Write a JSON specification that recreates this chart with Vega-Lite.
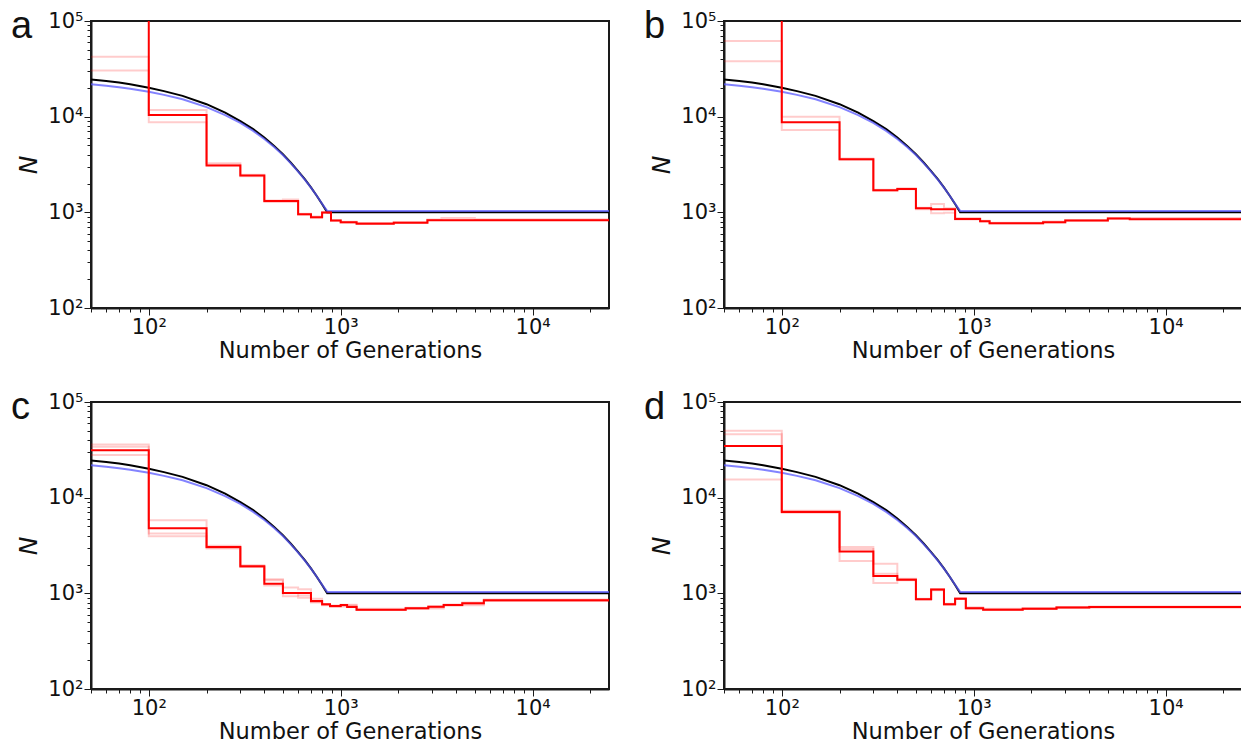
{
  "$schema": "https://vega.github.io/schema/vega-lite/v6.json",
  "padding": {"left": 10, "top": 7, "right": 0, "bottom": 0},
  "background": "white",
  "datasets": {
    "truth": [
      {"s": "black", "x": 50, "y": 24500}, {"s": "black", "x": 60, "y": 23600}, {"s": "black", "x": 70, "y": 22700}, {"s": "black", "x": 80, "y": 21800},
      {"s": "black", "x": 100, "y": 20100}, {"s": "black", "x": 120, "y": 18500}, {"s": "black", "x": 150, "y": 16500}, {"s": "black", "x": 200, "y": 13500},
      {"s": "black", "x": 250, "y": 11000}, {"s": "black", "x": 300, "y": 9000}, {"s": "black", "x": 350, "y": 7400}, {"s": "black", "x": 400, "y": 6050},
      {"s": "black", "x": 450, "y": 4950}, {"s": "black", "x": 500, "y": 4050}, {"s": "black", "x": 550, "y": 3300}, {"s": "black", "x": 600, "y": 2700},
      {"s": "black", "x": 650, "y": 2220}, {"s": "black", "x": 700, "y": 1820}, {"s": "black", "x": 750, "y": 1490}, {"s": "black", "x": 800, "y": 1220},
      {"s": "black", "x": 850, "y": 1000}, {"s": "black", "x": 25000, "y": 1000},
      {"s": "blue", "x": 50, "y": 21800}, {"s": "blue", "x": 60, "y": 21000}, {"s": "blue", "x": 70, "y": 20300}, {"s": "blue", "x": 80, "y": 19600},
      {"s": "blue", "x": 100, "y": 18200}, {"s": "blue", "x": 120, "y": 16900}, {"s": "blue", "x": 150, "y": 15200}, {"s": "blue", "x": 200, "y": 12600},
      {"s": "blue", "x": 250, "y": 10400}, {"s": "blue", "x": 300, "y": 8600}, {"s": "blue", "x": 350, "y": 7100}, {"s": "blue", "x": 400, "y": 5850},
      {"s": "blue", "x": 450, "y": 4830}, {"s": "blue", "x": 500, "y": 3970}, {"s": "blue", "x": 550, "y": 3250}, {"s": "blue", "x": 600, "y": 2670},
      {"s": "blue", "x": 650, "y": 2200}, {"s": "blue", "x": 700, "y": 1810}, {"s": "blue", "x": 750, "y": 1490}, {"s": "blue", "x": 800, "y": 1230},
      {"s": "blue", "x": 850, "y": 1035}, {"s": "blue", "x": 25000, "y": 1035}
    ],
    "est": [
      {"p": "a", "id": "est", "x": 50, "y": 150000}, {"p": "a", "id": "est", "x": 100, "y": 10400}, {"p": "a", "id": "est", "x": 200, "y": 3080},
      {"p": "a", "id": "est", "x": 300, "y": 2420}, {"p": "a", "id": "est", "x": 400, "y": 1310}, {"p": "a", "id": "est", "x": 600, "y": 955},
      {"p": "a", "id": "est", "x": 700, "y": 890}, {"p": "a", "id": "est", "x": 800, "y": 995}, {"p": "a", "id": "est", "x": 890, "y": 820},
      {"p": "a", "id": "est", "x": 1000, "y": 787}, {"p": "a", "id": "est", "x": 1210, "y": 762}, {"p": "a", "id": "est", "x": 1890, "y": 780},
      {"p": "a", "id": "est", "x": 2830, "y": 825}, {"p": "a", "id": "est", "x": 25000, "y": 825},
      {"p": "a", "id": "r1", "x": 50, "y": 42300}, {"p": "a", "id": "r1", "x": 100, "y": 11750}, {"p": "a", "id": "r1", "x": 200, "y": 3250},
      {"p": "a", "id": "r1", "x": 300, "y": 2470}, {"p": "a", "id": "r1", "x": 400, "y": 1330}, {"p": "a", "id": "r1", "x": 500, "y": 1360},
      {"p": "a", "id": "r1", "x": 600, "y": 965}, {"p": "a", "id": "r1", "x": 700, "y": 905}, {"p": "a", "id": "r1", "x": 800, "y": 1000},
      {"p": "a", "id": "r1", "x": 890, "y": 830}, {"p": "a", "id": "r1", "x": 1000, "y": 795}, {"p": "a", "id": "r1", "x": 1210, "y": 772},
      {"p": "a", "id": "r1", "x": 1890, "y": 790}, {"p": "a", "id": "r1", "x": 2830, "y": 840}, {"p": "a", "id": "r1", "x": 3350, "y": 870},
      {"p": "a", "id": "r1", "x": 5000, "y": 845}, {"p": "a", "id": "r1", "x": 25000, "y": 840},
      {"p": "a", "id": "r2", "x": 50, "y": 30300}, {"p": "a", "id": "r2", "x": 100, "y": 8740}, {"p": "a", "id": "r2", "x": 200, "y": 3150},
      {"p": "a", "id": "r2", "x": 300, "y": 2380}, {"p": "a", "id": "r2", "x": 400, "y": 1280}, {"p": "a", "id": "r2", "x": 600, "y": 945},
      {"p": "a", "id": "r2", "x": 700, "y": 880}, {"p": "a", "id": "r2", "x": 800, "y": 985}, {"p": "a", "id": "r2", "x": 890, "y": 810},
      {"p": "a", "id": "r2", "x": 1000, "y": 780}, {"p": "a", "id": "r2", "x": 1210, "y": 770}, {"p": "a", "id": "r2", "x": 1890, "y": 785},
      {"p": "a", "id": "r2", "x": 2830, "y": 830}, {"p": "a", "id": "r2", "x": 25000, "y": 830},

      {"p": "b", "id": "est", "x": 50, "y": 150000}, {"p": "b", "id": "est", "x": 100, "y": 8730}, {"p": "b", "id": "est", "x": 200, "y": 3590},
      {"p": "b", "id": "est", "x": 300, "y": 1700}, {"p": "b", "id": "est", "x": 400, "y": 1750}, {"p": "b", "id": "est", "x": 500, "y": 1100},
      {"p": "b", "id": "est", "x": 600, "y": 1080}, {"p": "b", "id": "est", "x": 800, "y": 850}, {"p": "b", "id": "est", "x": 1080, "y": 805},
      {"p": "b", "id": "est", "x": 1210, "y": 770}, {"p": "b", "id": "est", "x": 2300, "y": 790}, {"p": "b", "id": "est", "x": 3000, "y": 820},
      {"p": "b", "id": "est", "x": 5000, "y": 860}, {"p": "b", "id": "est", "x": 6500, "y": 845}, {"p": "b", "id": "est", "x": 25000, "y": 845},
      {"p": "b", "id": "r1", "x": 50, "y": 61800}, {"p": "b", "id": "r1", "x": 100, "y": 10000}, {"p": "b", "id": "r1", "x": 200, "y": 3650},
      {"p": "b", "id": "r1", "x": 300, "y": 1720}, {"p": "b", "id": "r1", "x": 400, "y": 1790}, {"p": "b", "id": "r1", "x": 500, "y": 1120},
      {"p": "b", "id": "r1", "x": 600, "y": 1220}, {"p": "b", "id": "r1", "x": 700, "y": 1100}, {"p": "b", "id": "r1", "x": 800, "y": 870},
      {"p": "b", "id": "r1", "x": 1080, "y": 815}, {"p": "b", "id": "r1", "x": 1210, "y": 780}, {"p": "b", "id": "r1", "x": 2300, "y": 800},
      {"p": "b", "id": "r1", "x": 3000, "y": 830}, {"p": "b", "id": "r1", "x": 5000, "y": 870}, {"p": "b", "id": "r1", "x": 25000, "y": 850},
      {"p": "b", "id": "r2", "x": 50, "y": 37900}, {"p": "b", "id": "r2", "x": 100, "y": 7260}, {"p": "b", "id": "r2", "x": 200, "y": 3550},
      {"p": "b", "id": "r2", "x": 300, "y": 1680}, {"p": "b", "id": "r2", "x": 400, "y": 1740}, {"p": "b", "id": "r2", "x": 500, "y": 1080},
      {"p": "b", "id": "r2", "x": 600, "y": 980}, {"p": "b", "id": "r2", "x": 700, "y": 990}, {"p": "b", "id": "r2", "x": 800, "y": 840},
      {"p": "b", "id": "r2", "x": 1080, "y": 800}, {"p": "b", "id": "r2", "x": 1210, "y": 765}, {"p": "b", "id": "r2", "x": 2300, "y": 785},
      {"p": "b", "id": "r2", "x": 3000, "y": 815}, {"p": "b", "id": "r2", "x": 5000, "y": 855}, {"p": "b", "id": "r2", "x": 25000, "y": 840},

      {"p": "c", "id": "est", "x": 50, "y": 31400}, {"p": "c", "id": "est", "x": 100, "y": 4800}, {"p": "c", "id": "est", "x": 200, "y": 3050},
      {"p": "c", "id": "est", "x": 300, "y": 1920}, {"p": "c", "id": "est", "x": 400, "y": 1262}, {"p": "c", "id": "est", "x": 500, "y": 1007},
      {"p": "c", "id": "est", "x": 700, "y": 830}, {"p": "c", "id": "est", "x": 800, "y": 767}, {"p": "c", "id": "est", "x": 880, "y": 736},
      {"p": "c", "id": "est", "x": 1000, "y": 754}, {"p": "c", "id": "est", "x": 1080, "y": 718}, {"p": "c", "id": "est", "x": 1210, "y": 674},
      {"p": "c", "id": "est", "x": 2180, "y": 697}, {"p": "c", "id": "est", "x": 2860, "y": 724}, {"p": "c", "id": "est", "x": 3440, "y": 754},
      {"p": "c", "id": "est", "x": 4300, "y": 790}, {"p": "c", "id": "est", "x": 5570, "y": 845}, {"p": "c", "id": "est", "x": 25000, "y": 845},
      {"p": "c", "id": "r1", "x": 50, "y": 36000}, {"p": "c", "id": "r1", "x": 100, "y": 5810}, {"p": "c", "id": "r1", "x": 200, "y": 3150},
      {"p": "c", "id": "r1", "x": 300, "y": 1960}, {"p": "c", "id": "r1", "x": 400, "y": 1370}, {"p": "c", "id": "r1", "x": 500, "y": 1150},
      {"p": "c", "id": "r1", "x": 600, "y": 1100}, {"p": "c", "id": "r1", "x": 700, "y": 880}, {"p": "c", "id": "r1", "x": 800, "y": 775},
      {"p": "c", "id": "r1", "x": 880, "y": 745}, {"p": "c", "id": "r1", "x": 1000, "y": 762}, {"p": "c", "id": "r1", "x": 1210, "y": 690},
      {"p": "c", "id": "r1", "x": 2180, "y": 705}, {"p": "c", "id": "r1", "x": 2860, "y": 735}, {"p": "c", "id": "r1", "x": 3440, "y": 765},
      {"p": "c", "id": "r1", "x": 4300, "y": 800}, {"p": "c", "id": "r1", "x": 5570, "y": 860}, {"p": "c", "id": "r1", "x": 25000, "y": 860},
      {"p": "c", "id": "r2", "x": 50, "y": 27900}, {"p": "c", "id": "r2", "x": 100, "y": 4220}, {"p": "c", "id": "r2", "x": 200, "y": 2950},
      {"p": "c", "id": "r2", "x": 300, "y": 1880}, {"p": "c", "id": "r2", "x": 400, "y": 1210}, {"p": "c", "id": "r2", "x": 500, "y": 930},
      {"p": "c", "id": "r2", "x": 600, "y": 900}, {"p": "c", "id": "r2", "x": 700, "y": 800}, {"p": "c", "id": "r2", "x": 800, "y": 750},
      {"p": "c", "id": "r2", "x": 880, "y": 725}, {"p": "c", "id": "r2", "x": 1000, "y": 745}, {"p": "c", "id": "r2", "x": 1210, "y": 668},
      {"p": "c", "id": "r2", "x": 2180, "y": 690}, {"p": "c", "id": "r2", "x": 2860, "y": 715}, {"p": "c", "id": "r2", "x": 3440, "y": 745},
      {"p": "c", "id": "r2", "x": 4300, "y": 780}, {"p": "c", "id": "r2", "x": 5570, "y": 830}, {"p": "c", "id": "r2", "x": 25000, "y": 830},
      {"p": "c", "id": "r3", "x": 50, "y": 34000}, {"p": "c", "id": "r3", "x": 100, "y": 3950}, {"p": "c", "id": "r3", "x": 200, "y": 3000},
      {"p": "c", "id": "r3", "x": 300, "y": 1900}, {"p": "c", "id": "r3", "x": 400, "y": 1400}, {"p": "c", "id": "r3", "x": 500, "y": 1000},
      {"p": "c", "id": "r3", "x": 600, "y": 950}, {"p": "c", "id": "r3", "x": 700, "y": 810}, {"p": "c", "id": "r3", "x": 800, "y": 760},
      {"p": "c", "id": "r3", "x": 880, "y": 730}, {"p": "c", "id": "r3", "x": 1210, "y": 670}, {"p": "c", "id": "r3", "x": 2180, "y": 695},
      {"p": "c", "id": "r3", "x": 3440, "y": 750}, {"p": "c", "id": "r3", "x": 5570, "y": 840}, {"p": "c", "id": "r3", "x": 25000, "y": 840},

      {"p": "d", "id": "est", "x": 50, "y": 34600}, {"p": "d", "id": "est", "x": 100, "y": 7100}, {"p": "d", "id": "est", "x": 200, "y": 2740},
      {"p": "d", "id": "est", "x": 300, "y": 1520}, {"p": "d", "id": "est", "x": 400, "y": 1390}, {"p": "d", "id": "est", "x": 500, "y": 865},
      {"p": "d", "id": "est", "x": 600, "y": 1094}, {"p": "d", "id": "est", "x": 700, "y": 767}, {"p": "d", "id": "est", "x": 800, "y": 880},
      {"p": "d", "id": "est", "x": 910, "y": 700}, {"p": "d", "id": "est", "x": 1120, "y": 674}, {"p": "d", "id": "est", "x": 1800, "y": 690},
      {"p": "d", "id": "est", "x": 2700, "y": 710}, {"p": "d", "id": "est", "x": 4000, "y": 720}, {"p": "d", "id": "est", "x": 25000, "y": 720},
      {"p": "d", "id": "r1", "x": 50, "y": 50100}, {"p": "d", "id": "r1", "x": 100, "y": 7300}, {"p": "d", "id": "r1", "x": 200, "y": 3050},
      {"p": "d", "id": "r1", "x": 300, "y": 2040}, {"p": "d", "id": "r1", "x": 400, "y": 1420}, {"p": "d", "id": "r1", "x": 500, "y": 880},
      {"p": "d", "id": "r1", "x": 600, "y": 1100}, {"p": "d", "id": "r1", "x": 700, "y": 780}, {"p": "d", "id": "r1", "x": 800, "y": 890},
      {"p": "d", "id": "r1", "x": 910, "y": 710}, {"p": "d", "id": "r1", "x": 1120, "y": 690}, {"p": "d", "id": "r1", "x": 1800, "y": 700},
      {"p": "d", "id": "r1", "x": 2700, "y": 720}, {"p": "d", "id": "r1", "x": 4000, "y": 730}, {"p": "d", "id": "r1", "x": 25000, "y": 730},
      {"p": "d", "id": "r2", "x": 50, "y": 15500}, {"p": "d", "id": "r2", "x": 100, "y": 6950}, {"p": "d", "id": "r2", "x": 200, "y": 2180},
      {"p": "d", "id": "r2", "x": 300, "y": 1280}, {"p": "d", "id": "r2", "x": 400, "y": 1370}, {"p": "d", "id": "r2", "x": 500, "y": 860},
      {"p": "d", "id": "r2", "x": 600, "y": 1080}, {"p": "d", "id": "r2", "x": 700, "y": 760}, {"p": "d", "id": "r2", "x": 800, "y": 870},
      {"p": "d", "id": "r2", "x": 910, "y": 690}, {"p": "d", "id": "r2", "x": 1120, "y": 668}, {"p": "d", "id": "r2", "x": 1800, "y": 685},
      {"p": "d", "id": "r2", "x": 2700, "y": 705}, {"p": "d", "id": "r2", "x": 4000, "y": 715}, {"p": "d", "id": "r2", "x": 25000, "y": 715},
      {"p": "d", "id": "r3", "x": 50, "y": 46000}, {"p": "d", "id": "r3", "x": 100, "y": 7200}, {"p": "d", "id": "r3", "x": 200, "y": 2900},
      {"p": "d", "id": "r3", "x": 300, "y": 1600}, {"p": "d", "id": "r3", "x": 400, "y": 1400}, {"p": "d", "id": "r3", "x": 500, "y": 870},
      {"p": "d", "id": "r3", "x": 600, "y": 1090}, {"p": "d", "id": "r3", "x": 700, "y": 770}, {"p": "d", "id": "r3", "x": 800, "y": 885},
      {"p": "d", "id": "r3", "x": 910, "y": 705}, {"p": "d", "id": "r3", "x": 1120, "y": 680}, {"p": "d", "id": "r3", "x": 1800, "y": 695},
      {"p": "d", "id": "r3", "x": 2700, "y": 712}, {"p": "d", "id": "r3", "x": 25000, "y": 722}
    ]
  },
  "columns": 2,
  "spacing": {"row": 94, "column": 115},
  "bounds": "flush",
  "concat": [
    {
      "title": {"text": "a"},
      "width": 518, "height": 287,
      "encoding": {
        "x": {"field": "x", "type": "quantitative", "scale": {"type": "log", "domain": [50, 25000], "nice": false},
          "axis": {"title": "Number of Generations", "values": [50,60,70,80,90,100,200,300,400,500,600,700,800,900,1000,2000,3000,4000,5000,6000,7000,8000,9000,10000,20000],
            "labelExpr": "datum.value == 100 ? '10²' : datum.value == 1000 ? '10³' : datum.value == 10000 ? '10⁴' : ''",
            "tickSize": {"condition": {"test": "datum.value == 100 || datum.value == 1000 || datum.value == 10000", "value": 7}, "value": 4}}},
        "y": {"field": "y", "type": "quantitative", "scale": {"type": "log", "domain": [100, 100000], "nice": false},
          "axis": {"title": "N", "values": [100,200,300,400,500,600,700,800,900,1000,2000,3000,4000,5000,6000,7000,8000,9000,10000,20000,30000,40000,50000,60000,70000,80000,90000,100000],
            "labelExpr": "datum.value == 100 ? '10²' : datum.value == 1000 ? '10³' : datum.value == 10000 ? '10⁴' : datum.value == 100000 ? '10⁵' : ''",
            "tickSize": {"condition": {"test": "datum.value == 100 || datum.value == 1000 || datum.value == 10000 || datum.value == 100000", "value": 7}, "value": 4}}}
      },
      "layer": [
        {"data": {"name": "truth"}, "transform": [{"filter": "datum.s == 'black'"}], "mark": {"type": "line", "color": "#000000", "strokeWidth": 2, "clip": true}},
        {"data": {"name": "truth"}, "transform": [{"filter": "datum.s == 'blue'"}], "mark": {"type": "line", "color": "#5a5aff", "strokeWidth": 2, "opacity": 0.75, "clip": true}},
        {"data": {"name": "est"}, "transform": [{"filter": "datum.p == 'a' && datum.id != 'est'"}], "mark": {"type": "line", "color": "#ff0000", "strokeWidth": 2, "opacity": 0.2, "interpolate": "step-after", "clip": true}, "encoding": {"detail": {"field": "id"}}},
        {"data": {"name": "est"}, "transform": [{"filter": "datum.p == 'a' && datum.id == 'est'"}], "mark": {"type": "line", "color": "#ff0000", "strokeWidth": 2, "interpolate": "step-after", "clip": true}}
      ]
    },
    {
      "title": {"text": "b"},
      "width": 518, "height": 287,
      "encoding": {
        "x": {"field": "x", "type": "quantitative", "scale": {"type": "log", "domain": [50, 25000], "nice": false},
          "axis": {"title": "Number of Generations", "values": [50,60,70,80,90,100,200,300,400,500,600,700,800,900,1000,2000,3000,4000,5000,6000,7000,8000,9000,10000,20000],
            "labelExpr": "datum.value == 100 ? '10²' : datum.value == 1000 ? '10³' : datum.value == 10000 ? '10⁴' : ''",
            "tickSize": {"condition": {"test": "datum.value == 100 || datum.value == 1000 || datum.value == 10000", "value": 7}, "value": 4}}},
        "y": {"field": "y", "type": "quantitative", "scale": {"type": "log", "domain": [100, 100000], "nice": false},
          "axis": {"title": "N", "values": [100,200,300,400,500,600,700,800,900,1000,2000,3000,4000,5000,6000,7000,8000,9000,10000,20000,30000,40000,50000,60000,70000,80000,90000,100000],
            "labelExpr": "datum.value == 100 ? '10²' : datum.value == 1000 ? '10³' : datum.value == 10000 ? '10⁴' : datum.value == 100000 ? '10⁵' : ''",
            "tickSize": {"condition": {"test": "datum.value == 100 || datum.value == 1000 || datum.value == 10000 || datum.value == 100000", "value": 7}, "value": 4}}}
      },
      "layer": [
        {"data": {"name": "truth"}, "transform": [{"filter": "datum.s == 'black'"}], "mark": {"type": "line", "color": "#000000", "strokeWidth": 2, "clip": true}},
        {"data": {"name": "truth"}, "transform": [{"filter": "datum.s == 'blue'"}], "mark": {"type": "line", "color": "#5a5aff", "strokeWidth": 2, "opacity": 0.75, "clip": true}},
        {"data": {"name": "est"}, "transform": [{"filter": "datum.p == 'b' && datum.id != 'est'"}], "mark": {"type": "line", "color": "#ff0000", "strokeWidth": 2, "opacity": 0.2, "interpolate": "step-after", "clip": true}, "encoding": {"detail": {"field": "id"}}},
        {"data": {"name": "est"}, "transform": [{"filter": "datum.p == 'b' && datum.id == 'est'"}], "mark": {"type": "line", "color": "#ff0000", "strokeWidth": 2, "interpolate": "step-after", "clip": true}}
      ]
    },
    {
      "title": {"text": "c"},
      "width": 518, "height": 287,
      "encoding": {
        "x": {"field": "x", "type": "quantitative", "scale": {"type": "log", "domain": [50, 25000], "nice": false},
          "axis": {"title": "Number of Generations", "values": [50,60,70,80,90,100,200,300,400,500,600,700,800,900,1000,2000,3000,4000,5000,6000,7000,8000,9000,10000,20000],
            "labelExpr": "datum.value == 100 ? '10²' : datum.value == 1000 ? '10³' : datum.value == 10000 ? '10⁴' : ''",
            "tickSize": {"condition": {"test": "datum.value == 100 || datum.value == 1000 || datum.value == 10000", "value": 7}, "value": 4}}},
        "y": {"field": "y", "type": "quantitative", "scale": {"type": "log", "domain": [100, 100000], "nice": false},
          "axis": {"title": "N", "values": [100,200,300,400,500,600,700,800,900,1000,2000,3000,4000,5000,6000,7000,8000,9000,10000,20000,30000,40000,50000,60000,70000,80000,90000,100000],
            "labelExpr": "datum.value == 100 ? '10²' : datum.value == 1000 ? '10³' : datum.value == 10000 ? '10⁴' : datum.value == 100000 ? '10⁵' : ''",
            "tickSize": {"condition": {"test": "datum.value == 100 || datum.value == 1000 || datum.value == 10000 || datum.value == 100000", "value": 7}, "value": 4}}}
      },
      "layer": [
        {"data": {"name": "truth"}, "transform": [{"filter": "datum.s == 'black'"}], "mark": {"type": "line", "color": "#000000", "strokeWidth": 2, "clip": true}},
        {"data": {"name": "truth"}, "transform": [{"filter": "datum.s == 'blue'"}], "mark": {"type": "line", "color": "#5a5aff", "strokeWidth": 2, "opacity": 0.75, "clip": true}},
        {"data": {"name": "est"}, "transform": [{"filter": "datum.p == 'c' && datum.id != 'est'"}], "mark": {"type": "line", "color": "#ff0000", "strokeWidth": 2, "opacity": 0.2, "interpolate": "step-after", "clip": true}, "encoding": {"detail": {"field": "id"}}},
        {"data": {"name": "est"}, "transform": [{"filter": "datum.p == 'c' && datum.id == 'est'"}], "mark": {"type": "line", "color": "#ff0000", "strokeWidth": 2, "interpolate": "step-after", "clip": true}}
      ]
    },
    {
      "title": {"text": "d"},
      "width": 518, "height": 287,
      "encoding": {
        "x": {"field": "x", "type": "quantitative", "scale": {"type": "log", "domain": [50, 25000], "nice": false},
          "axis": {"title": "Number of Generations", "values": [50,60,70,80,90,100,200,300,400,500,600,700,800,900,1000,2000,3000,4000,5000,6000,7000,8000,9000,10000,20000],
            "labelExpr": "datum.value == 100 ? '10²' : datum.value == 1000 ? '10³' : datum.value == 10000 ? '10⁴' : ''",
            "tickSize": {"condition": {"test": "datum.value == 100 || datum.value == 1000 || datum.value == 10000", "value": 7}, "value": 4}}},
        "y": {"field": "y", "type": "quantitative", "scale": {"type": "log", "domain": [100, 100000], "nice": false},
          "axis": {"title": "N", "values": [100,200,300,400,500,600,700,800,900,1000,2000,3000,4000,5000,6000,7000,8000,9000,10000,20000,30000,40000,50000,60000,70000,80000,90000,100000],
            "labelExpr": "datum.value == 100 ? '10²' : datum.value == 1000 ? '10³' : datum.value == 10000 ? '10⁴' : datum.value == 100000 ? '10⁵' : ''",
            "tickSize": {"condition": {"test": "datum.value == 100 || datum.value == 1000 || datum.value == 10000 || datum.value == 100000", "value": 7}, "value": 4}}}
      },
      "layer": [
        {"data": {"name": "truth"}, "transform": [{"filter": "datum.s == 'black'"}], "mark": {"type": "line", "color": "#000000", "strokeWidth": 2, "clip": true}},
        {"data": {"name": "truth"}, "transform": [{"filter": "datum.s == 'blue'"}], "mark": {"type": "line", "color": "#5a5aff", "strokeWidth": 2, "opacity": 0.75, "clip": true}},
        {"data": {"name": "est"}, "transform": [{"filter": "datum.p == 'd' && datum.id != 'est'"}], "mark": {"type": "line", "color": "#ff0000", "strokeWidth": 2, "opacity": 0.2, "interpolate": "step-after", "clip": true}, "encoding": {"detail": {"field": "id"}}},
        {"data": {"name": "est"}, "transform": [{"filter": "datum.p == 'd' && datum.id == 'est'"}], "mark": {"type": "line", "color": "#ff0000", "strokeWidth": 2, "interpolate": "step-after", "clip": true}}
      ]
    }
  ],
  "config": {
    "view": {"stroke": "#1a1a1a", "strokeWidth": 2},
    "axis": {"grid": false, "domainColor": "#1a1a1a", "domainWidth": 2, "tickColor": "#1a1a1a", "tickWidth": 1,
      "labelFont": "DejaVu Sans", "labelFontSize": 21, "labelColor": "#111111", "labelPadding": 1,
      "titleFont": "DejaVu Sans", "titleFontSize": 22.5, "titleFontWeight": "normal", "titleColor": "#111111"},
    "axisX": {"labelFlush": false, "titlePadding": 2},
    "axisY": {"titleFontStyle": "italic", "titleFontSize": 25, "titlePadding": 6, "labelOverlap": false},
    "title": {"anchor": "start", "frame": "group", "orient": "top", "dx": -80, "dy": 40, "offset": 0, "baseline": "alphabetic",
      "font": "Liberation Sans", "fontSize": 38, "fontWeight": "normal", "color": "#111111"}
  }
}
